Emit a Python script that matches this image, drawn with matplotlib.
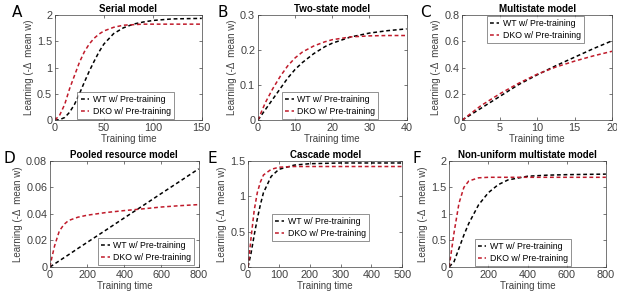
import matplotlib
matplotlib.use("Agg")
import matplotlib.pyplot as plt

plt.rcParams["font.family"] = ["Liberation Sans", "DejaVu Sans"]

# values, per panel
a_x = [0, 5, 10, 15, 20, 25, 30, 35, 40, 45, 50, 60, 70, 80, 90, 100, 120, 150]
a_wt = [0, 0.01, 0.05, 0.15, 0.3, 0.5, 0.72, 0.93, 1.12, 1.3, 1.45, 1.65, 1.76, 1.83, 1.87, 1.9, 1.93, 1.94]
a_dko = [0, 0.1, 0.3, 0.6, 0.85, 1.1, 1.3, 1.45, 1.56, 1.64, 1.7, 1.77, 1.81, 1.82, 1.83, 1.83, 1.83, 1.83]

b_x = [0, 2, 4, 6, 8, 10, 12, 15, 18, 20, 25, 30, 35, 40]
b_wt = [0, 0.03, 0.06, 0.09, 0.12, 0.145, 0.165, 0.19, 0.21, 0.22, 0.238, 0.249, 0.256, 0.261]
b_dko = [0, 0.05, 0.09, 0.125, 0.155, 0.178, 0.195, 0.212, 0.224, 0.23, 0.238, 0.241, 0.242, 0.242]

c_x = [0, 2.5, 5, 7.5, 10, 12.5, 15, 17.5, 20]
c_wt = [0, 0.09, 0.18, 0.27, 0.345, 0.415, 0.48, 0.545, 0.605]
c_dko = [0, 0.11, 0.2, 0.28, 0.35, 0.405, 0.45, 0.49, 0.525]

d_x = [0, 10, 25, 50, 75, 100, 150, 200, 300, 400, 500, 600, 700, 800]
d_wt = [0, 0.0009, 0.0023, 0.0046, 0.0069, 0.0092, 0.0139, 0.0185, 0.0277, 0.037, 0.0462, 0.0555, 0.0647, 0.074]
d_dko = [0, 0.007, 0.016, 0.027, 0.032, 0.035, 0.0375, 0.039, 0.041, 0.0425, 0.0438, 0.0452, 0.0462, 0.047]

e_x = [0, 10, 20, 30, 40, 50, 75, 100, 150, 200, 300, 400, 500]
e_wt = [0, 0.2, 0.45, 0.68, 0.88, 1.05, 1.28, 1.38, 1.44, 1.46, 1.47, 1.47, 1.47]
e_dko = [0, 0.42, 0.8, 1.05, 1.2, 1.3, 1.38, 1.41, 1.42, 1.42, 1.42, 1.42, 1.42]

f_x = [0, 25, 50, 75, 100, 150, 200, 250, 300, 400, 500, 600, 800]
f_wt = [0, 0.1, 0.35, 0.6, 0.82, 1.17, 1.4, 1.55, 1.64, 1.71, 1.73, 1.74, 1.75]
f_dko = [0, 0.65, 1.2, 1.5, 1.62, 1.68, 1.69, 1.69, 1.69, 1.69, 1.69, 1.69, 1.69]

panels = [
    ("A", "Serial model", a_x, a_wt, a_dko, (0, 150), (0, 2), [0, 50, 100, 150], [0, 0.5, 1, 1.5, 2]),
    ("B", "Two-state model", b_x, b_wt, b_dko, (0, 40), (0, 0.3), [0, 10, 20, 30, 40], [0, 0.1, 0.2, 0.3]),
    ("C", "Multistate model", c_x, c_wt, c_dko, (0, 20), (0, 0.8), [0, 5, 10, 15, 20], [0, 0.2, 0.4, 0.6, 0.8]),
    ("D", "Pooled resource model", d_x, d_wt, d_dko, (0, 800), (0, 0.08), [0, 200, 400, 600, 800], [0, 0.02, 0.04, 0.06, 0.08]),
    ("E", "Cascade model", e_x, e_wt, e_dko, (0, 500), (0, 1.5), [0, 100, 200, 300, 400, 500], [0, 0.5, 1, 1.5]),
    ("F", "Non-uniform multistate model", f_x, f_wt, f_dko, (0, 800), (0, 2), [0, 200, 400, 600, 800], [0, 0.5, 1, 1.5, 2]),
]

rects = [
    [0.089, 0.590, 0.238, 0.358],
    [0.418, 0.590, 0.241, 0.358],
    [0.749, 0.590, 0.243, 0.358],
    [0.081, 0.089, 0.241, 0.362],
    [0.402, 0.089, 0.250, 0.362],
    [0.728, 0.089, 0.254, 0.362],
]
legend_pos = [
    ("lower right", (0.81, 0.01)),
    ("lower right", (0.81, 0.01)),
    ("upper center", (0.49, 0.995)),
    ("lower right", (0.97, 0.02)),
    ("center", (0.47, 0.37)),
    ("lower center", (0.47, 0.005)),
]
letter_xy = [(0.019, 0.956), (0.353, 0.956), (0.681, 0.956),
             (0.005, 0.46), (0.337, 0.46), (0.669, 0.46)]

red = "#c01a2a"
grey = "#404040"
fig = plt.figure(figsize=(6.17, 2.93), dpi=100)

for rect, (loc, anchor), (lx, ly), (lab, title, x, wt, dko, xl, yl, xt, yt) in zip(
        rects, legend_pos, letter_xy, panels):
    ax = fig.add_axes(rect)
    ax.plot(x, wt, color="black", lw=1.1, dashes=(2.5, 1.8), label="WT w/ Pre-training")
    ax.plot(x, dko, color=red, lw=1.1, dashes=(2.5, 1.8), label="DKO w/ Pre-training")
    ax.set_xlim(xl)
    ax.set_ylim(yl)
    ax.set_xticks(xt)
    ax.set_yticks(yt)
    ax.set_yticklabels([("%g" % v) for v in yt])
    ax.tick_params(direction="in", labelsize=7.8, length=2.5, width=0.5,
                   top=True, right=True, colors=grey, pad=2)
    for s in ax.spines.values():
        s.set_linewidth(0.5)
        s.set_color(grey)
    ax.set_title(title, fontsize=7, fontweight="bold", pad=2)
    ax.set_xlabel("Training time", fontsize=7, labelpad=1, color=grey)
    ax.set_ylabel("Learning (-Δ  mean w)", fontsize=7, labelpad=2, color=grey)
    leg = ax.legend(loc=loc, bbox_to_anchor=anchor, fontsize=6.3, frameon=True,
                    fancybox=False, edgecolor=grey, handlelength=1.0,
                    borderpad=0.35, labelspacing=0.35, handletextpad=0.4,
                    borderaxespad=0.0)
    leg.get_frame().set_linewidth(0.5)
    fig.text(lx, ly, lab, fontsize=11, fontfamily="DejaVu Sans", va="center")

fig.savefig("out.png", dpi=100)
